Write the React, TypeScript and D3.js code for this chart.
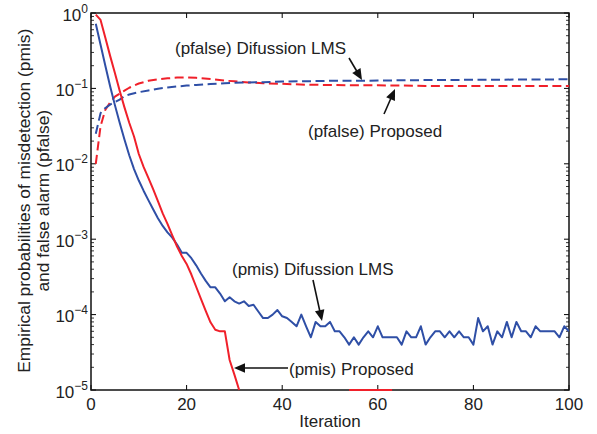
import React from 'react';
import * as d3 from 'd3';

const iterations = d3.range(1, 101);

const bluePmis = [
  0.72, 0.38, 0.2, 0.107, 0.06, 0.035, 0.021, 0.013, 0.0085, 0.006,
  0.0044, 0.0033, 0.0025, 0.0019, 0.0015, 0.00123, 0.00105, 0.00085, 0.00066, 0.00066,
  0.00056, 0.00045, 0.00035, 0.00028, 0.00023, 0.00023, 0.00019, 0.00015, 0.00017, 0.00015,
  0.00014, 0.00015, 0.00013, 0.000135, 0.00011, 0.00009, 0.00009, 0.0001, 0.000115, 0.000095,
  0.00009, 0.00008, 0.00007, 0.0001, 0.00007, 0.00005, 0.00008, 0.00007, 0.00007, 0.00008,
  0.00006, 0.00006, 0.00005, 0.00004, 0.00005, 0.00004, 0.00005, 0.00006, 0.00005, 0.00007,
  0.00005, 0.00005, 0.00005, 0.00005, 0.00004, 0.00006, 0.00005, 0.00005, 0.00007, 0.00004,
  0.00005, 0.00006, 0.00006, 0.00005, 0.00006, 0.00005, 0.00006, 0.00005, 0.00005, 0.00004,
  0.00009, 0.00006, 0.00007, 0.00004, 0.00006, 0.00005, 0.00008, 0.00005, 0.00008, 0.00006,
  0.00006, 0.00005, 0.00007, 0.00006, 0.00006, 0.00006, 0.00006, 0.00005, 0.00007, 0.00006,
];

const redPmis = [
  0.95, 0.81, 0.47, 0.27, 0.16, 0.093, 0.056, 0.035, 0.023, 0.0135,
  0.0091, 0.0065, 0.0046, 0.0032, 0.0022, 0.0016, 0.00112, 0.0008, 0.0006, 0.00047,
  0.00034, 0.000234, 0.000162, 0.000112, 0.000079, 0.000063, 0.00006, 0.00006, 0.000025, 0.000016,
  0.00001, 0, 0, 0, 0, 0, 0, 0, 0, 0,
  0, 0, 0, 0, 0, 0, 0, 0, 0, 0,
  0, 0, 0, 0.00001, 0.00001, 0.00001, 0.00001, 0.00001, 0.00001, 0.00001,
  0.00001, 0.00001, 0.00001, 0, 0, 0, 0, 0, 0, 0,
  0, 0, 0, 0, 0, 0, 0, 0, 0, 0,
  0, 0, 0, 0, 0, 0, 0, 0, 0, 0,
  0, 0, 0, 0, 0, 0, 0, 0, 0, 0,
];

const pfalseIter = [1, 2, 3, 4, 5, 6, 7, 8, 10, 12, 14, 16, 18, 20, 22, 25, 28, 30, 33, 36, 40, 45, 50, 55, 60, 70, 80, 90, 100];
const bluePfalse = [0.025, 0.047, 0.055, 0.061, 0.066, 0.071, 0.079, 0.083, 0.089, 0.094, 0.099, 0.103, 0.106, 0.109, 0.111, 0.114, 0.117, 0.119, 0.12, 0.121, 0.123, 0.1245, 0.126, 0.126, 0.127, 0.129, 0.13, 0.131, 0.132];
const redPfalse = [0.01, 0.0316, 0.052, 0.065, 0.0776, 0.085, 0.0933, 0.102, 0.116, 0.126, 0.132, 0.136, 0.139, 0.14, 0.138, 0.133, 0.127, 0.124, 0.12, 0.117, 0.115, 0.112, 0.111, 0.11, 0.11, 0.108, 0.108, 0.108, 0.108];

const xTicks = [0, 20, 40, 60, 80, 100];
const yTickExps = [0, -1, -2, -3, -4, -5];

const BLUE = '#2f4fa6';
const RED = '#f0202a';
const FONT = '"Liberation Sans", Arial, Helvetica, sans-serif';

type Ann = { text: string; x: number; y: number; tail: [number, number]; tip: [number, number] };
const annotations: Ann[] = [
  { text: '(pfalse) Difussion LMS', x: 175, y: 54, tail: [349, 58], tip: [362, 80] },
  { text: '(pfalse) Proposed', x: 308, y: 137, tail: [384, 114], tip: [395, 89] },
  { text: '(pmis) Difussion LMS', x: 232, y: 275, tail: [313, 280], tip: [322, 321] },
  { text: '(pmis) Proposed', x: 289, y: 375, tail: [288, 368], tip: [234, 368] },
];

function Arrow({ tail, tip }: { tail: [number, number]; tip: [number, number] }) {
  const dx = tip[0] - tail[0];
  const dy = tip[1] - tail[1];
  const len = Math.hypot(dx, dy);
  const ux = dx / len, uy = dy / len;
  const hl = 11, hw = 4.8;
  const bx = tip[0] - ux * hl, by = tip[1] - uy * hl;
  const p1 = [bx - uy * hw, by + ux * hw];
  const p2 = [bx + uy * hw, by - ux * hw];
  return (
    <g>
      <line x1={tail[0]} y1={tail[1]} x2={bx + ux * 2} y2={by + uy * 2} stroke="#111" strokeWidth={1.6} />
      <polygon points={`${tip[0]},${tip[1]} ${p1[0]},${p1[1]} ${p2[0]},${p2[1]}`} fill="#111" />
    </g>
  );
}

export default function App() {
  const L = 91, R = 569, T = 13, B = 390;
  const x = d3.scaleLinear().domain([0, 100]).range([L, R]);
  const y = d3.scaleLog().domain([1e-5, 1]).range([B, T]);

  const lineIter = d3.line<number>()
    .defined((d) => d > 0)
    .x((_, i) => x(iterations[i]))
    .y((d) => y(d));
  const lineP = d3.line<number>()
    .x((_, i) => x(pfalseIter[i]))
    .y((d) => y(d));

  const minor: number[] = [];
  yTickExps.slice(1).forEach((e) => {
    for (let k = 2; k <= 9; k++) minor.push(k * Math.pow(10, e));
  });

  return (
    <svg width={597} height={434} style={{ position: 'absolute', left: 0, top: 0, background: '#fff' }} fontFamily={FONT}>
      <defs>
        <clipPath id="plotclip">
          <rect x={L} y={T - 2} width={R - L} height={B - T + 4} />
        </clipPath>
      </defs>
      <rect x={0} y={0} width={597} height={434} fill="#fff" />
      {xTicks.map((t) => (
        <g key={'xt' + t}>
          <line x1={x(t)} x2={x(t)} y1={B} y2={B - 5} stroke="#000" strokeWidth={1} />
          <line x1={x(t)} x2={x(t)} y1={T} y2={T + 5} stroke="#000" strokeWidth={1} />
          <text x={x(t)} y={409.5} textAnchor="middle" fontSize={17} fill="#222">{t}</text>
        </g>
      ))}
      {yTickExps.map((e) => {
        const yy = y(Math.pow(10, e));
        return (
          <g key={'yt' + e}>
            <line x1={L} x2={L + 5} y1={yy} y2={yy} stroke="#000" strokeWidth={1} />
            <line x1={R} x2={R - 5} y1={yy} y2={yy} stroke="#000" strokeWidth={1} />
            <text x={L - 3} y={yy + 7.5} textAnchor="end" fontSize={17} fill="#222">
              10
              <tspan fontSize={12} dy={-8}>{e === 0 ? '0' : '\u2212' + Math.abs(e)}</tspan>
            </text>
          </g>
        );
      })}
      {minor.map((v, i) => (
        <g key={'mn' + i}>
          <line x1={L} x2={L + 3} y1={y(v)} y2={y(v)} stroke="#000" strokeWidth={0.8} />
          <line x1={R} x2={R - 3} y1={y(v)} y2={y(v)} stroke="#000" strokeWidth={0.8} />
        </g>
      ))}
      <rect x={L} y={T} width={R - L} height={B - T} fill="none" stroke="#111" strokeWidth={1.5} />
      <g clipPath="url(#plotclip)" fill="none" strokeWidth={2} strokeLinejoin="round">
        <path d={lineP(redPfalse) || ''} stroke={RED} strokeDasharray="9,4.5" />
        <path d={lineP(bluePfalse) || ''} stroke={BLUE} strokeDasharray="9,4.5" />
        <path d={lineIter(bluePmis) || ''} stroke={BLUE} />
        <path d={lineIter(redPmis) || ''} stroke={RED} />
      </g>
      {annotations.map((a, i) => (
        <g key={'an' + i}>
          <text x={a.x} y={a.y} fontSize={17} fill="#222">{a.text}</text>
          <Arrow tail={a.tail} tip={a.tip} />
        </g>
      ))}
      <text x={(L + R) / 2} y={427} textAnchor="middle" fontSize={17} fill="#222">Iteration</text>
      <text transform="translate(29.5,200.7) rotate(-90)" textAnchor="middle" fontSize={17.4} fill="#222">
        Empirical probabilities of misdetection (pmis)
      </text>
      <text transform="translate(48.5,200.7) rotate(-90)" textAnchor="middle" fontSize={17.4} fill="#222">
        and false alarm (pfalse)
      </text>
    </svg>
  );
}
